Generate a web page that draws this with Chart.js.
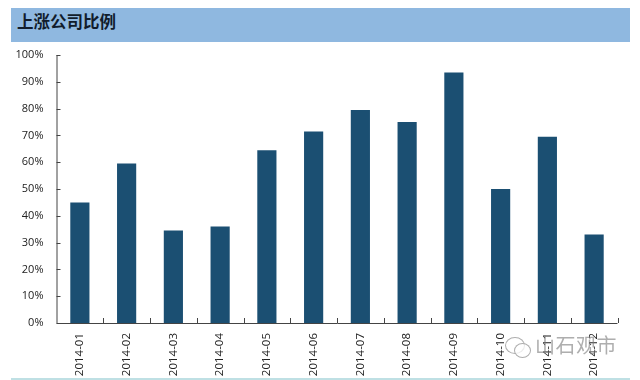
<!DOCTYPE html>
<html><head><meta charset="utf-8">
<script src="https://cdn.jsdelivr.net/npm/chart.js@4"></script>
<style>
html,body{margin:0;padding:0;background:#fff;width:640px;height:380px;overflow:hidden}
#wrap{position:relative;width:640px;height:380px}
#head{position:absolute;left:11px;top:8px;width:619px;height:34px;background:#8fb8e0;color:#111c2c;font:bold 16.5px/27px "Noto Sans CJK SC";padding-left:6px;box-sizing:border-box}
#rule{position:absolute;left:11px;top:378px;width:619px;height:2px;background:#bfe0e4}
#mark{position:absolute;left:535px;top:332px;color:rgba(120,120,120,.6);font:20px/26px "Noto Sans CJK SC";letter-spacing:0.5px}
#icon{position:absolute;left:505px;top:337px;width:18px;height:15px;border:1px solid rgba(140,140,140,.7);border-radius:50%;background:rgba(255,255,255,.75)}
#icon2{position:absolute;left:514px;top:343px;width:15px;height:13px;border:1px solid rgba(140,140,140,.7);border-radius:50%;background:rgba(255,255,255,.75)}
canvas{position:absolute;left:0;top:0}
</style></head><body>
<div id="wrap">
<canvas id="c" width="640" height="380"></canvas>
<div id="head">上涨公司比例</div>
<div id="rule"></div>
<div id="icon"></div><div id="icon2"></div>
<div id="mark">山石观市</div>
</div>
<script>
const categories = ["2014-01","2014-02","2014-03","2014-04","2014-05","2014-06","2014-07","2014-08","2014-09","2014-10","2014-11","2014-12"];
const ratioValues = [45,59.5,34.5,36,64.5,71.5,79.5,75,93.5,50,69.5,33];
const axisColor = "#444";
const innerTicks = {
  id:"innerTicks",
  afterDatasetsDraw(chart){
    const {ctx,chartArea:a,scales:{x,y}} = chart;
    ctx.save();
    ctx.strokeStyle = axisColor; ctx.lineWidth = 1;
    ctx.beginPath();
    ctx.moveTo(a.left+.5,a.top); ctx.lineTo(a.left+.5,a.bottom+.5); ctx.lineTo(a.right,a.bottom+.5);
    y.ticks.forEach(t=>{const p=Math.round(y.getPixelForValue(t.value))+.5; ctx.moveTo(a.left,p); ctx.lineTo(a.left+4,p);});
    const step=(a.right-a.left)/categories.length;
    for(let i=1;i<=categories.length;i++){const p=Math.round(a.left+i*step)+.5; ctx.moveTo(p,a.bottom); ctx.lineTo(p,a.bottom-5);}
    ctx.stroke(); ctx.restore();
  }
};
new Chart(document.getElementById("c"),{
  type:"bar",
  data:{labels:categories,datasets:[{data:ratioValues,backgroundColor:"#1b4f72",categoryPercentage:1,barPercentage:0.41}]},
  options:{
    responsive:false,animation:false,
    layout:{padding:{top:55,right:22.5,left:0,bottom:0}},
    plugins:{legend:{display:false},tooltip:{enabled:false}},
    scales:{
      x:{offset:true,grid:{display:false},border:{display:false},
        afterFit(s){s.height=57;},
        ticks:{color:"#222",font:{family:"Open Sans",size:11.5},minRotation:90,maxRotation:90,padding:2,autoSkip:false}},
      y:{min:0,max:100,grid:{display:false},border:{display:false},
        afterFit(s){s.width=56.5;},
        ticks:{stepSize:10,color:"#222",font:{family:"Open Sans",size:11},padding:5,callback:v=>v+"%"}}
    }
  },
  plugins:[innerTicks]
});
</script>
</body></html>
